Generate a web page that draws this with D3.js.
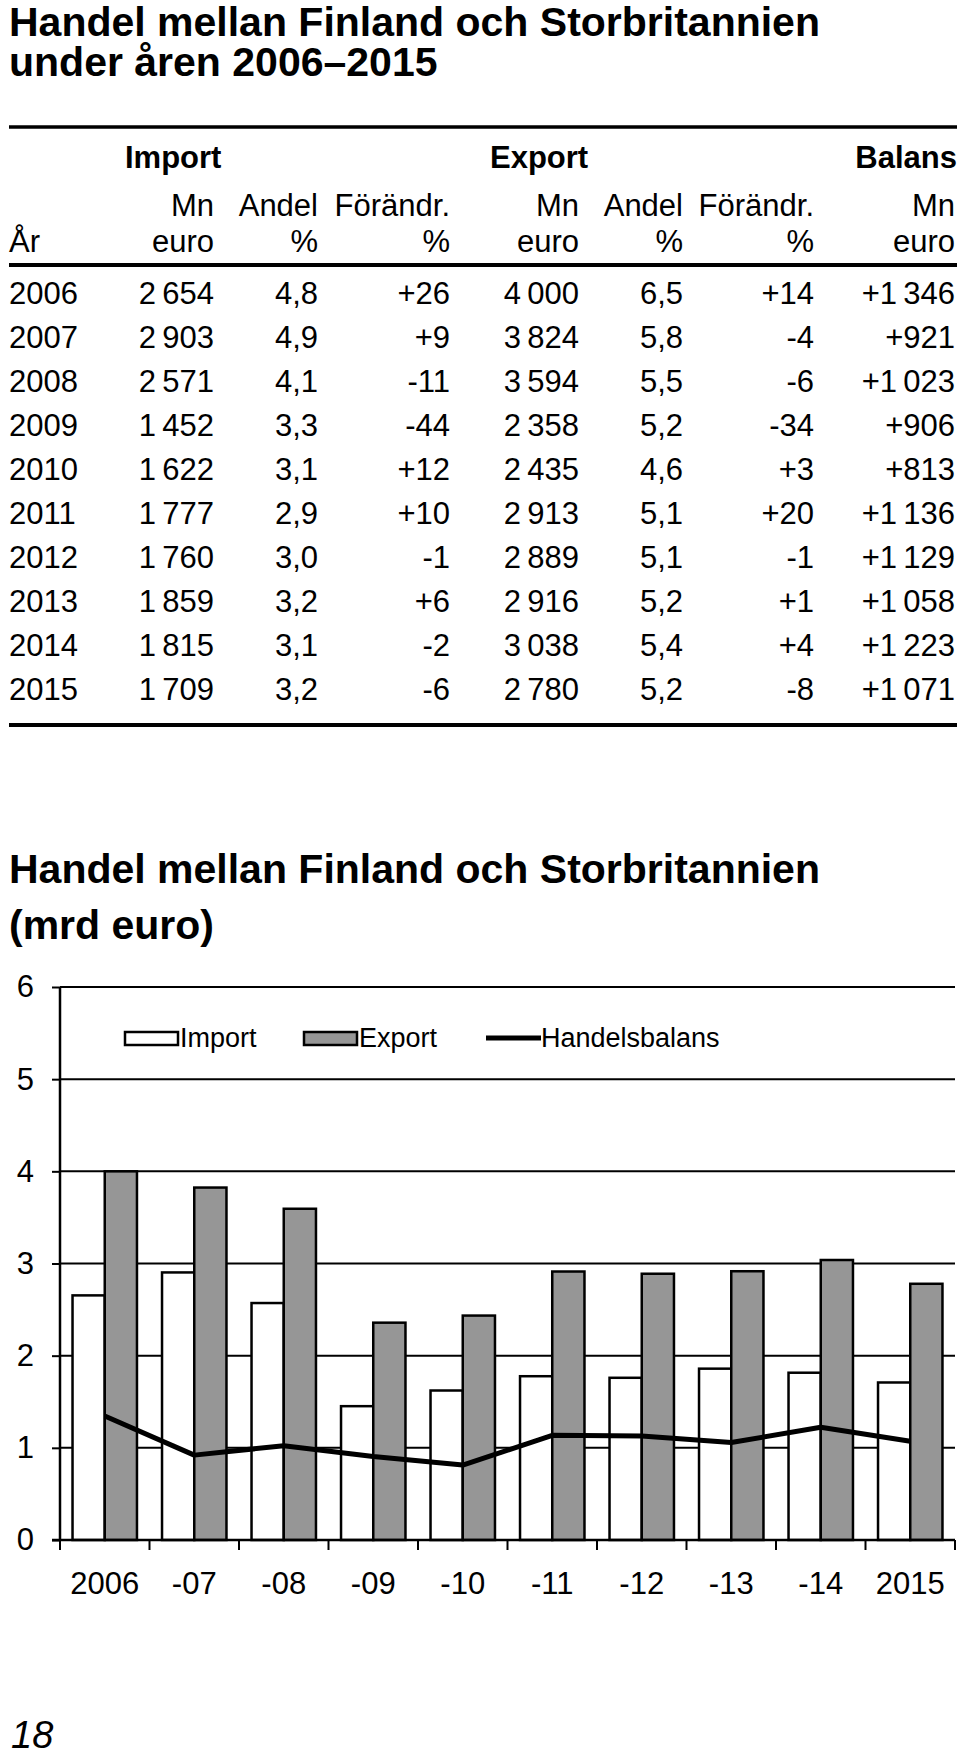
<!DOCTYPE html>
<html>
<head>
<meta charset="utf-8">
<script src="https://cdn.jsdelivr.net/npm/d3@7"></script>
<style>
    body { margin: 0; background: #fff; }
    svg { display: block; }
    text { font-family: "Liberation Sans", Arial, sans-serif; fill: #000; }
    .title { font-weight: bold; font-size: 41px; }
    .head { font-weight: bold; font-size: 31px; }
    .cell { font-size: 31px; }
    .tick-label { font-size: 31px; }
    .legend-label { font-size: 27px; }
</style>
</head>
<body>
<div id="chart"></div>
<script>
// table data (Mn euro, %)
const years = [2006, 2007, 2008, 2009, 2010, 2011, 2012, 2013, 2014, 2015];
const importMn = [2654, 2903, 2571, 1452, 1622, 1777, 1760, 1859, 1815, 1709];
const importShare = [4.8, 4.9, 4.1, 3.3, 3.1, 2.9, 3.0, 3.2, 3.1, 3.2];
const importChange = [26, 9, -11, -44, 12, 10, -1, 6, -2, -6];
const exportMn = [4000, 3824, 3594, 2358, 2435, 2913, 2889, 2916, 3038, 2780];
const exportShare = [6.5, 5.8, 5.5, 5.2, 4.6, 5.1, 5.1, 5.2, 5.4, 5.2];
const exportChange = [14, -4, -6, -34, 3, 20, -1, 1, 4, -8];
const balance = [1346, 921, 1023, 906, 813, 1136, 1129, 1058, 1223, 1071];

// chart axis labels
const xTickLabels = ["2006", "-07", "-08", "-09", "-10", "-11", "-12", "-13", "-14", "2015"];
const yTickValues = [0, 1000, 2000, 3000, 4000, 5000, 6000];
const seriesNames = ["Import", "Export", "Handelsbalans"];

const WIDTH = 960;
const HEIGHT = 1754;

const svg = d3.select("#chart")
    .append("svg")
        .attr("width", WIDTH)
        .attr("height", HEIGHT);

svg.append("rect")
    .attr("width", WIDTH)
    .attr("height", HEIGHT)
    .attr("fill", "#fff");

// swedish style numbers: "2 654", "4,8", "-11"
const locale = d3.formatLocale({
    decimal: ",", thousands: "\u2009", grouping: [3], currency: ["", ""], minus: "-"
});
const fmtMn = locale.format(",d");
const fmtShare = locale.format(".1f");
const fmtChange = locale.format("+d");
const fmtBalance = locale.format("+,d");

// ---------- table ----------
svg.append("text").attr("class", "title").attr("x", 9).attr("y", 36)
    .text("Handel mellan Finland och Storbritannien");
svg.append("text").attr("class", "title").attr("x", 9).attr("y", 76)
    .text("under åren 2006–2015");

const rule = (y, w) => svg.append("line")
    .attr("x1", 9).attr("x2", 957)
    .attr("y1", y).attr("y2", y)
    .attr("stroke", "#000").attr("stroke-width", w);

rule(127, 3.5);
rule(265, 4);
rule(725, 4);

svg.append("text").attr("class", "head").attr("x", 125).attr("y", 168).text("Import");
svg.append("text").attr("class", "head").attr("x", 490).attr("y", 168).text("Export");
svg.append("text").attr("class", "head").attr("x", 957).attr("y", 168)
    .attr("text-anchor", "end").text("Balans");

const colRight = [214, 318, 450, 579, 683, 814, 955];
const head1 = ["Mn", "Andel", "Förändr.", "Mn", "Andel", "Förändr.", "Mn"];
const head2 = ["euro", "%", "%", "euro", "%", "%", "euro"];

svg.selectAll(".h1")
    .data(head1)
    .enter().append("text")
        .attr("class", "cell")
        .attr("x", (d, i) => colRight[i])
        .attr("y", 216)
        .attr("text-anchor", "end")
        .text(d => d);

svg.selectAll(".h2")
    .data(head2)
    .enter().append("text")
        .attr("class", "cell")
        .attr("x", (d, i) => colRight[i])
        .attr("y", 252)
        .attr("text-anchor", "end")
        .text(d => d);

svg.append("text").attr("class", "cell").attr("x", 9).attr("y", 252).text("År");

const rowY = d3.scaleBand()
    .domain(years)
    .range([271, 711]);

const rows = years.map((yr, i) => [
    fmtMn(importMn[i]), fmtShare(importShare[i]), fmtChange(importChange[i]),
    fmtMn(exportMn[i]), fmtShare(exportShare[i]), fmtChange(exportChange[i]),
    fmtBalance(balance[i])
]);

const rowG = svg.selectAll(".row")
    .data(years)
    .enter().append("g")
        .attr("transform", d => `translate(0, ${rowY(d) + rowY.bandwidth() / 2 + 11})`);

rowG.append("text")
    .attr("class", "cell")
    .attr("x", 9)
    .text(d => d);

rowG.selectAll(".v")
    .data((d, i) => rows[i])
    .enter().append("text")
        .attr("class", "cell")
        .attr("x", (d, i) => colRight[i])
        .attr("text-anchor", "end")
        .text(d => d);

// ---------- chart ----------
svg.append("text").attr("class", "title").attr("x", 9).attr("y", 883)
    .text("Handel mellan Finland och Storbritannien");
svg.append("text").attr("class", "title").attr("x", 9).attr("y", 939)
    .text("(mrd euro)");

const PLOT = { LEFT: 60, RIGHT: 955, TOP: 987, BOTTOM: 1540 };

const y = d3.scaleLinear()
    .domain([0, 6000])
    .range([PLOT.BOTTOM, PLOT.TOP]);

const x0 = d3.scaleBand()
    .domain(years)
    .range([PLOT.LEFT, PLOT.RIGHT])
    .paddingInner(0.28)
    .paddingOuter(0.14);

const x1 = d3.scaleBand()
    .domain(["import", "export"])
    .range([0, x0.bandwidth()]);

// gridlines
svg.append("g")
    .selectAll("line")
    .data(yTickValues.slice(1))
    .enter().append("line")
        .attr("x1", PLOT.LEFT).attr("x2", PLOT.RIGHT)
        .attr("y1", d => y(d)).attr("y2", d => y(d))
        .attr("stroke", "#000")
        .attr("stroke-width", 2);

// y axis
const yAxisCall = d3.axisLeft(y)
    .tickValues(yTickValues)
    .tickSize(8)
    .tickPadding(18)
    .tickFormat(d => d / 1000);
const yAxis = svg.append("g")
    .attr("transform", `translate(${PLOT.LEFT}, 0)`)
    .call(yAxisCall);
yAxis.select(".domain").remove();
yAxis.selectAll("line").attr("stroke-width", 2);
yAxis.selectAll("text")
    .attr("class", "tick-label")
    .attr("font-family", null).attr("font-size", null);

svg.append("line")
    .attr("x1", PLOT.LEFT).attr("x2", PLOT.LEFT)
    .attr("y1", PLOT.TOP).attr("y2", PLOT.BOTTOM)
    .attr("stroke", "#000").attr("stroke-width", 2.5);

// bars
const groups = svg.append("g")
    .selectAll("g")
    .data(years)
    .enter().append("g")
        .attr("transform", d => `translate(${x0(d)}, 0)`);

groups.append("rect")
    .attr("x", x1("import"))
    .attr("y", (d, i) => y(importMn[i]))
    .attr("width", x1.bandwidth())
    .attr("height", (d, i) => y(0) - y(importMn[i]))
    .attr("fill", "#fff")
    .attr("stroke", "#000")
    .attr("stroke-width", 2.5);

groups.append("rect")
    .attr("x", x1("export"))
    .attr("y", (d, i) => y(exportMn[i]))
    .attr("width", x1.bandwidth())
    .attr("height", (d, i) => y(0) - y(exportMn[i]))
    .attr("fill", "#969696")
    .attr("stroke", "#000")
    .attr("stroke-width", 2.5);

// balance line
const line = d3.line()
    .x((d, i) => x0(years[i]) + x0.bandwidth() / 2)
    .y(d => y(d));

svg.append("path")
    .datum(balance)
    .attr("d", line)
    .attr("fill", "none")
    .attr("stroke", "#000")
    .attr("stroke-width", 5)
    .attr("stroke-linejoin", "round");

// x axis with ticks between categories
const step = x0.step();
svg.append("line")
    .attr("x1", PLOT.LEFT - 8).attr("x2", PLOT.RIGHT)
    .attr("y1", y(0)).attr("y2", y(0))
    .attr("stroke", "#000").attr("stroke-width", 2.5);

svg.append("g")
    .selectAll("line")
    .data(d3.range(years.length + 1))
    .enter().append("line")
        .attr("x1", d => PLOT.LEFT + d * step)
        .attr("x2", d => PLOT.LEFT + d * step)
        .attr("y1", y(0)).attr("y2", y(0) + 10)
        .attr("stroke", "#000").attr("stroke-width", 2);

svg.append("g")
    .selectAll("text")
    .data(xTickLabels)
    .enter().append("text")
        .attr("class", "tick-label")
        .attr("x", (d, i) => x0(years[i]) + x0.bandwidth() / 2)
        .attr("y", 1594)
        .attr("text-anchor", "middle")
        .text(d => d);

// legend
const legend = svg.append("g").attr("transform", "translate(125, 1038)");
const legendX = [0, 179, 361];

legend.selectAll("rect")
    .data(seriesNames.slice(0, 2))
    .enter().append("rect")
        .attr("x", (d, i) => legendX[i])
        .attr("y", -6)
        .attr("width", 53)
        .attr("height", 13)
        .attr("fill", (d, i) => i === 0 ? "#fff" : "#969696")
        .attr("stroke", "#000")
        .attr("stroke-width", 2.5);

legend.append("line")
    .attr("x1", legendX[2]).attr("x2", legendX[2] + 55)
    .attr("y1", 0).attr("y2", 0)
    .attr("stroke", "#000").attr("stroke-width", 5);

legend.selectAll("text")
    .data(seriesNames)
    .enter().append("text")
        .attr("class", "legend-label")
        .attr("x", (d, i) => legendX[i] + 55)
        .attr("y", 9)
        .text(d => d);

// page number
svg.append("text")
    .attr("x", 11)
    .attr("y", 1748)
    .attr("font-family", "Liberation Serif, serif")
    .attr("font-style", "italic")
    .attr("font-size", 38)
    .text("18");
</script>
</body>
</html>
